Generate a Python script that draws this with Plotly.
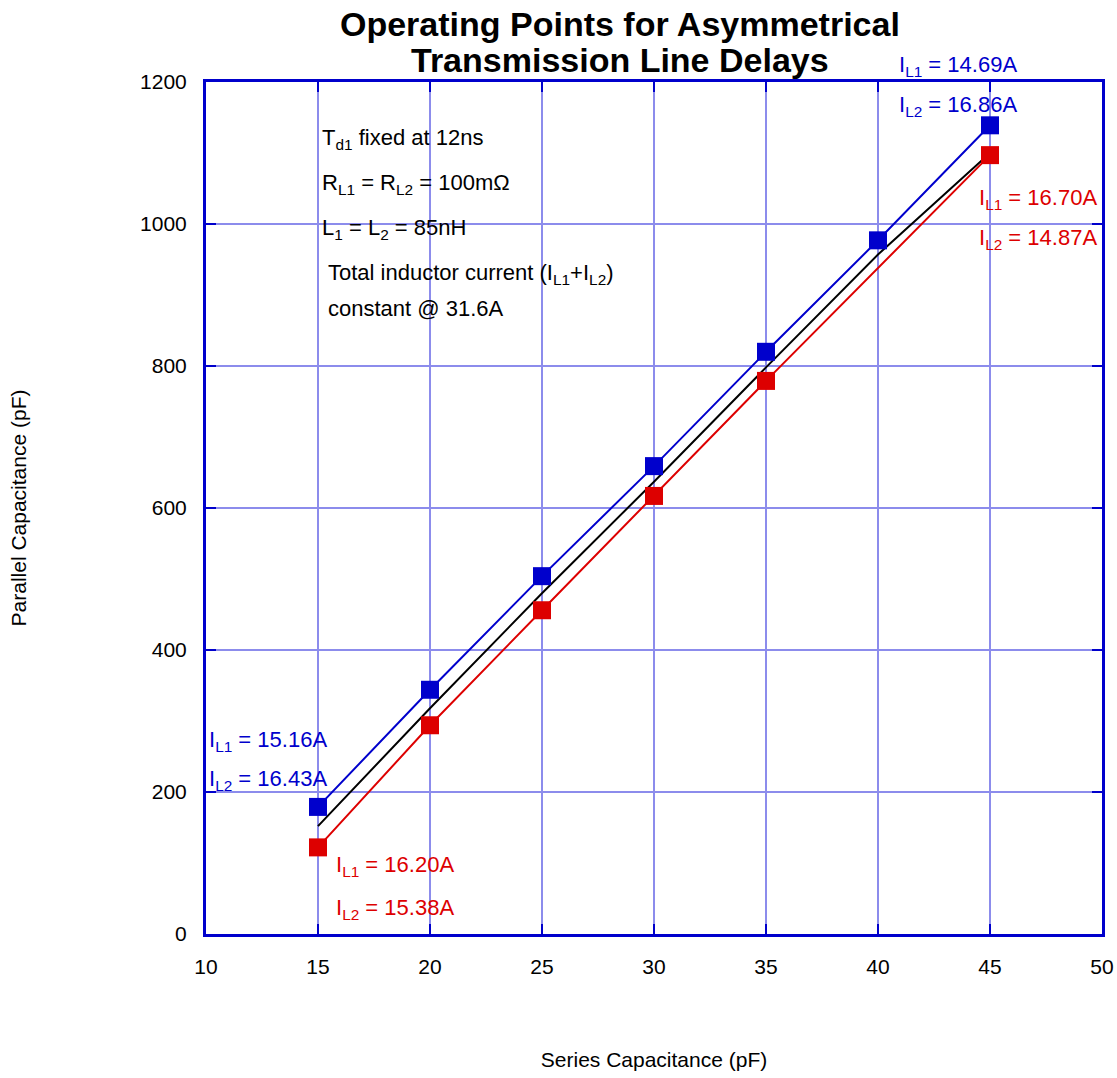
import plotly.graph_objects as go

series_cap = [15, 20, 25, 30, 35, 40, 45]
blue_vals = [179, 344, 504, 659, 820, 977, 1139]
red_x = [15, 20, 25, 30, 35, 45]
red_vals = [122, 294, 456, 617, 779, 1097]
black_vals = [152, 318, 480, 637, 798, 957, 1100]

BLUE = "#0000cc"
RED = "#dd0000"
GRID = "#8c8cec"
FONT = "Liberation Sans, Arial"

fig = go.Figure()
fig.add_trace(go.Scatter(x=series_cap, y=black_vals, mode="lines",
                         line=dict(color="black", width=2), showlegend=False))
fig.add_trace(go.Scatter(x=series_cap, y=blue_vals, mode="lines+markers",
                         line=dict(color=BLUE, width=2),
                         marker=dict(symbol="square", size=18, color=BLUE), showlegend=False))
fig.add_trace(go.Scatter(x=red_x, y=red_vals, mode="lines+markers",
                         line=dict(color=RED, width=2),
                         marker=dict(symbol="square", size=18, color=RED), showlegend=False))

L, R, T, B = 206, 1102, 82, 934

def pxp(px):
    return (px - L) / (R - L)

def pyp(py):
    return (B - py) / (B - T)

notes = [
    ("I<sub>L1</sub> = 15.16A", 207, 741, BLUE),
    ("I<sub>L2</sub> = 16.43A", 207, 780, BLUE),
    ("I<sub>L1</sub> = 16.20A", 334, 866, RED),
    ("I<sub>L2</sub> = 15.38A", 334, 909, RED),
    ("I<sub>L1</sub> = 14.69A", 897, 66, BLUE),
    ("I<sub>L2</sub> = 16.86A", 897, 106, BLUE),
    ("I<sub>L1</sub> = 16.70A", 977, 199, RED),
    ("I<sub>L2</sub> = 14.87A", 977, 239, RED),
    ("T<sub>d1</sub> fixed at 12ns", 320, 139, "black"),
    ("R<sub>L1</sub> = R<sub>L2</sub> = 100mΩ", 320, 184, "black"),
    ("L<sub>1</sub> = L<sub>2</sub> = 85nH", 320, 229, "black"),
    ("Total inductor current (I<sub>L1</sub>+I<sub>L2</sub>)", 326, 274, "black"),
    ("constant @ 31.6A", 326, 308, "black"),
]
for txt, px, py, col in notes:
    fig.add_annotation(x=pxp(px), y=pyp(py), xref="paper", yref="paper", text=txt,
                       showarrow=False, xanchor="left", yanchor="middle",
                       font=dict(family=FONT, size=22, color=col))

for txt, py in [("<b>Operating Points for Asymmetrical</b>", 24),
                ("<b>Transmission Line Delays</b>", 60)]:
    fig.add_annotation(x=pxp(620), y=pyp(py), xref="paper", yref="paper",
                       text=txt, showarrow=False, xanchor="center", yanchor="middle",
                       font=dict(family=FONT, size=34, color="black"))

axis_common = dict(showgrid=True, gridcolor=GRID, gridwidth=2,
                   showline=True, linecolor=BLUE, linewidth=3, mirror="ticks",
                   ticks="inside", ticklen=10, tickwidth=2, tickcolor=BLUE,
                   zeroline=False, ticklabelstandoff=12, automargin=False,
                   tickfont=dict(family=FONT, size=21, color="black"))

fig.update_xaxes(range=[10, 50], dtick=5,
                 title=dict(text="Series Capacitance (pF)", standoff=76,
                            font=dict(family=FONT, size=21, color="black")),
                 **axis_common)
fig.update_yaxes(range=[0, 1200], dtick=200,
                 title=dict(text="Parallel Capacitance (pF)", standoff=108,
                            font=dict(family=FONT, size=21, color="black")),
                 **axis_common)

fig.update_layout(
    width=1117, height=1078,
    margin=dict(l=L, r=1117 - R, t=T, b=1078 - B),
    plot_bgcolor="white", paper_bgcolor="white",
)

fig.write_html("out.html")
